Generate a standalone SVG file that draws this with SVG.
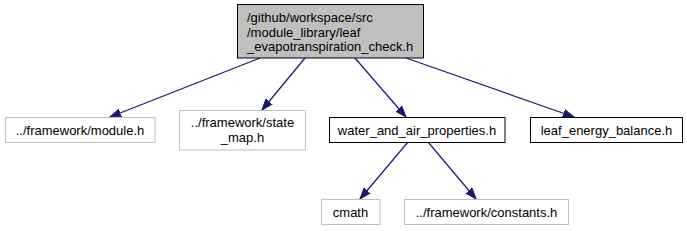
<svg xmlns="http://www.w3.org/2000/svg" width="687" height="231" viewBox="0 0 687 231">
<style>
text{font-family:"Liberation Sans",Arial,Helvetica,sans-serif;font-size:13px;fill:#000}
.c{text-anchor:middle}
.root{fill:#bfbfbf;stroke:#000;stroke-width:1}
.n{fill:#fff;stroke:#000;stroke-width:1}
.g{fill:#fff;stroke:#bfbfbf;stroke-width:1}
.e{stroke:#191970;stroke-width:1.2;fill:none;marker-end:url(#ah)}
</style>
<defs>
<marker id="ah" markerUnits="userSpaceOnUse" markerWidth="12" markerHeight="10" viewBox="0 -5 12 10" refX="11" refY="0" orient="auto">
<path d="M0,-4 L11,0 L0,4 z" fill="#191970" stroke="#191970" stroke-width="1"/>
</marker>
</defs>
<g id="connectors">
<path class="e" d="M260,58 L110,117"/>
<path class="e" d="M305,58 L262,110"/>
<path class="e" d="M355,58 L406,117"/>
<path class="e" d="M406,58 L574,117"/>
<path class="e" d="M408,142 L360,199"/>
<path class="e" d="M428,142 L476,199"/>
</g>
<g id="node_root">
<rect class="root" x="237.5" y="4.5" width="186" height="53.5"/>
<text x="247" y="22">/github/workspace/src</text>
<text x="247" y="36.5">/module_library/leaf</text>
<text x="247" y="51">_evapotranspiration_check.h</text>
</g>
<g id="node_module">
<rect class="g" x="5.5" y="117.5" width="149.5" height="25"/>
<text class="c" x="80" y="134.5">../framework/module.h</text>
</g>
<g id="node_state_map">
<rect class="g" x="179.5" y="110.5" width="126" height="39.5"/>
<text class="c" x="242.5" y="127">../framework/state</text>
<text class="c" x="242.5" y="141.5">_map.h</text>
</g>
<g id="node_water">
<rect class="n" x="329.5" y="117.5" width="175.5" height="25"/>
<text class="c" x="417" y="134.5">water_and_air_properties.h</text>
</g>
<g id="node_leaf_energy">
<rect class="n" x="530.5" y="117.5" width="152" height="25"/>
<text class="c" x="606.5" y="134.5">leaf_energy_balance.h</text>
</g>
<g id="node_cmath">
<rect class="g" x="321.5" y="199.5" width="58.5" height="25"/>
<text class="c" x="350.5" y="216.5">cmath</text>
</g>
<g id="node_constants">
<rect class="g" x="404.5" y="199.5" width="164" height="25"/>
<text class="c" x="486.5" y="216.5">../framework/constants.h</text>
</g>
</svg>
